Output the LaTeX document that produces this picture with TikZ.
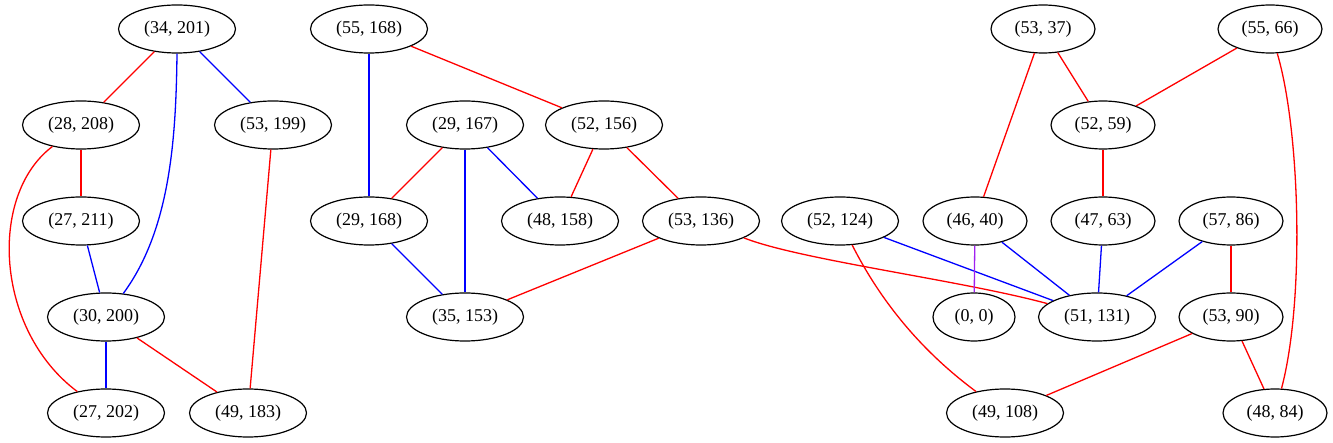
\documentclass[tikz,border=0pt]{standalone}
\usepackage{fontspec}
\setmainfont{Liberation Serif}
\usetikzlibrary{shapes.geometric}
\definecolor{gvpurple}{RGB}{160,32,240}
\tikzset{
  gn/.style={ellipse, draw=black, line width=1.2pt, inner sep=0pt, minimum height=48pt, font=\fontsize{18}{20}\selectfont},
  wa/.style={gn, minimum width=117pt},
  wb/.style={gn, minimum width=104pt},
  wc/.style={gn, minimum width=82pt},
  re/.style={draw=red, line width=1.3pt},
  be/.style={draw=blue, line width=1.3pt},
  pe/.style={draw=gvpurple, line width=1.3pt}
}
\begin{document}
\begin{tikzpicture}[x=1pt, y=-1pt]
\useasboundingbox (0,0) rectangle (1333,443);
\node[wa] (n34201) at (177,29) {(34, 201)};
\node[wa] (n55168) at (369,29) {(55, 168)};
\node[wb] (n5337) at (1043,29) {(53, 37)};
\node[wb] (n5566) at (1270,29) {(55, 66)};
\node[wa] (n28208) at (81,125) {(28, 208)};
\node[wa] (n53199) at (273,125) {(53, 199)};
\node[wa] (n29167) at (465,125) {(29, 167)};
\node[wa] (n52156) at (604,125) {(52, 156)};
\node[wb] (n5259) at (1103,125) {(52, 59)};
\node[wa] (n27211) at (81,221) {(27, 211)};
\node[wa] (n29168) at (369,221) {(29, 168)};
\node[wa] (n48158) at (560,221) {(48, 158)};
\node[wa] (n53136) at (701,221) {(53, 136)};
\node[wa] (n52124) at (840,221) {(52, 124)};
\node[wb] (n4640) at (975,221) {(46, 40)};
\node[wb] (n4763) at (1103,221) {(47, 63)};
\node[wb] (n5786) at (1231,221) {(57, 86)};
\node[wa] (n30200) at (106,317) {(30, 200)};
\node[wa] (n35153) at (465,317) {(35, 153)};
\node[wc] (n00) at (974,317) {(0, 0)};
\node[wa] (n51131) at (1097,317) {(51, 131)};
\node[wb] (n5390) at (1231,317) {(53, 90)};
\node[wa] (n27202) at (106,413) {(27, 202)};
\node[wa] (n49183) at (248,413) {(49, 183)};
\node[wa] (n49108) at (1005,413) {(49, 108)};
\node[wb] (n4884) at (1275,413) {(48, 84)};

\draw[re] (n34201) -- (n28208);
\draw[be] (n34201.south) .. controls (176,140) and (170,230) .. (n30200);
\draw[be] (n34201) -- (n53199);
\draw[re] (n28208) -- (n27211);
\draw[re] (n28208) .. controls (-12,195) and (-5,330) .. (n27202);
\draw[be] (n27211) -- (n30200);
\draw[be] (n30200) -- (n27202);
\draw[re] (n30200) -- (n49183);
\draw[re] (n53199) -- (n49183);
\draw[be] (n55168) -- (n29168);
\draw[re] (n55168) -- (n52156);
\draw[re] (n29167) -- (n29168);
\draw[be] (n29167) -- (n35153);
\draw[be] (n29167) -- (n48158);
\draw[re] (n52156) -- (n48158);
\draw[re] (n52156) -- (n53136);
\draw[be] (n29168) -- (n35153);
\draw[re] (n53136) -- (n35153);
\draw[re] (n53136) .. controls (800,260) and (960,280) .. (n51131);
\draw[be] (n52124) -- (n51131);
\draw[re] (n52124) .. controls (880,300) and (920,350) .. (n49108);
\draw[pe] (n4640) -- (n00);
\draw[be] (n4640) -- (n51131);
\draw[re] (n5337) -- (n4640);
\draw[re] (n5337) -- (n5259);
\draw[re] (n5566) -- (n5259);
\draw[re] (n5566) .. controls (1300,130) and (1305,300) .. (n4884);
\draw[re] (n5259) -- (n4763);
\draw[be] (n4763) -- (n51131);
\draw[be] (n5786) -- (n51131);
\draw[re] (n5786) -- (n5390);
\draw[re] (n5390) -- (n49108);
\draw[re] (n5390) -- (n4884);
\end{tikzpicture}
\end{document}
